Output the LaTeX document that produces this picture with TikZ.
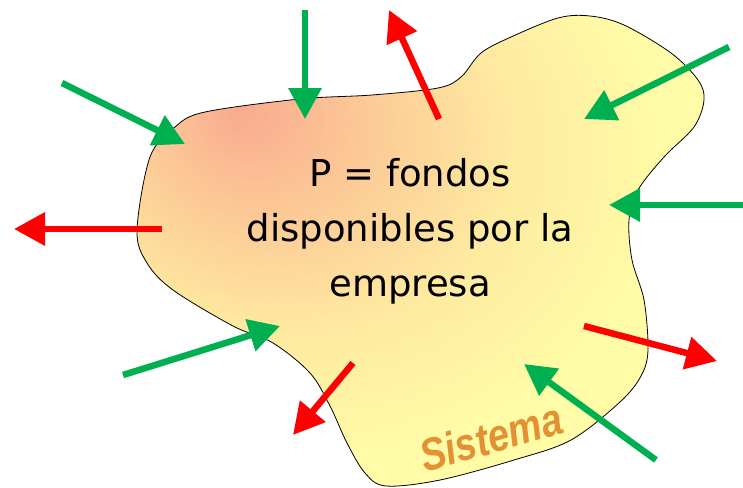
\documentclass[tikz,border=0pt]{standalone}
\usepackage{fontspec}
\setmainfont{DejaVu Sans}
\newfontfamily\sisfont{Liberation Sans}
\usetikzlibrary{arrows.meta}

\definecolor{ArrowGreen}{RGB}{0,176,80}
\definecolor{ArrowRed}{RGB}{255,0,0}
\definecolor{BlobSalmon}{RGB}{249,170,143}
\definecolor{BlobPeach}{RGB}{252,200,150}
\definecolor{BlobPale}{RGB}{254,234,160}
\definecolor{BlobYellow}{RGB}{255,251,166}
\definecolor{SisOrange}{RGB}{226,146,50}

\pgfdeclareradialshading{BlobShade}{\pgfpoint{-16bp}{15bp}}{color(0bp)=(BlobSalmon); color(9bp)=(BlobPeach); color(20bp)=(BlobPale); color(31bp)=(BlobYellow); color(80bp)=(BlobYellow)}

\begin{document}
\begin{tikzpicture}[x=1pt,y=-1pt]
\tikzset{BlobStyle/.style ={draw=black, line width=0.8pt, shade, shading=BlobShade}}
\tikzset{InEdge/.style ={draw=ArrowGreen, line width=6.5pt, -{Triangle[length=31pt,width=32pt]}}}
\tikzset{OutEdge/.style ={draw=ArrowRed, line width=6.5pt, -{Triangle[length=31pt,width=32pt]}}}
\tikzset{TextStyle/.style ={align=center, inner sep=0pt, font=\fontsize{37}{55}\selectfont}}
\tikzset{SisStyle/.style ={inner sep=0pt, text=SisOrange, font=\sisfont\bfseries\itshape\fontsize{38}{40}\selectfont}}
\useasboundingbox (0,0) rectangle (743,487);
\path[BlobStyle] plot[smooth cycle, tension=0.55] coordinates {
  (137,230) (150,157) (175,127) (205,112) (300,99) (372,95) (438,88)
  (461,77) (481,53) (511,37) (558,18) (590,16) (624,25) (671,53)
  (698,80) (704,100) (694,127) (664,157) (638,190) (629,220) (632,260)
  (644,300) (648,350) (641,376) (620,402) (571,440) (514,460) (440,480)
  (386,486) (365,473) (347,443) (330,406) (310,373) (273,343) (233,326)
  (173,290) (147,263)};
\node[TextStyle] (fondos) at (410,231) {P = fondos\\disponibles por la\\empresa};
\node[SisStyle, rotate=16, yscale=1.2] (sistema) at (491,437) {Sistema};
\coordinate (g1s) at (305,10);
\coordinate (g1e) at (305,119);
\coordinate (g2s) at (62,83);
\coordinate (g2e) at (185,144);
\coordinate (g3s) at (729,47);
\coordinate (g3e) at (584,119);
\coordinate (g4s) at (743,205);
\coordinate (g4e) at (609,205);
\coordinate (g5s) at (123,375);
\coordinate (g5e) at (280,326);
\coordinate (g6s) at (656,460);
\coordinate (g6e) at (524,364);
\coordinate (r1s) at (162,229);
\coordinate (r1e) at (14,229);
\coordinate (r2s) at (439,119);
\coordinate (r2e) at (389,10);
\coordinate (r3s) at (353,363);
\coordinate (r3e) at (293,435);
\coordinate (r4s) at (584,326);
\coordinate (r4e) at (717,361);
\draw[InEdge] (g1s) -- (g1e);
\draw[InEdge] (g2s) -- (g2e);
\draw[InEdge] (g3s) -- (g3e);
\draw[InEdge] (g4s) -- (g4e);
\draw[InEdge] (g5s) -- (g5e);
\draw[InEdge] (g6s) -- (g6e);
\draw[OutEdge] (r1s) -- (r1e);
\draw[OutEdge] (r2s) -- (r2e);
\draw[OutEdge] (r3s) -- (r3e);
\draw[OutEdge] (r4s) -- (r4e);
\end{tikzpicture}
\end{document}
